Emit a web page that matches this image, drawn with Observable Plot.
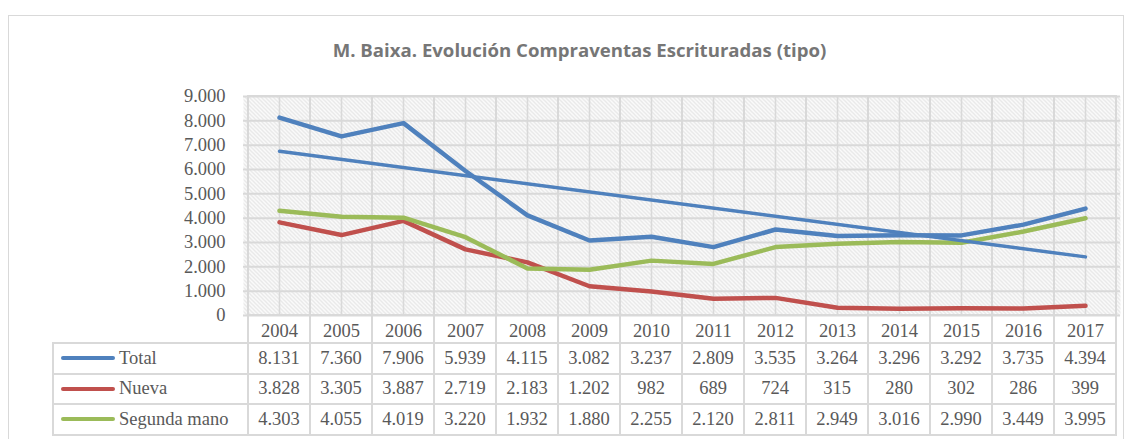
<!DOCTYPE html>
<html>
<head>
<meta charset="utf-8">
<script src="https://cdn.jsdelivr.net/npm/d3@7"></script>
<script src="https://cdn.jsdelivr.net/npm/@observablehq/plot@0.6"></script>
<style>
  html, body { margin: 0; padding: 0; }
  body { width: 1133px; height: 439px; overflow: hidden; background: #fff; position: relative; }
  #frame { position: absolute; left: 8px; top: 15px; width: 1116px; height: 440px; border: 1px solid #d9d9d9; box-sizing: border-box; }
  #title { position: absolute; left: 13px; width: 1133px; top: 38px; text-align: center;
           font: bold 18.6px "Open Sans", Lato, sans-serif; color: #767676; line-height: 24px; }
  #chart { position: absolute; left: 0; top: 80px; }
  .ln { position: absolute; background: #d9d9d9; }
  .cell { position: absolute; display: flex; align-items: center; justify-content: center;
          font: 18.5px "Liberation Serif", serif; color: #595959; white-space: nowrap; }
  .lab { justify-content: flex-start; }
  .sw { display: inline-block; width: 54px; height: 4px; border-radius: 2px; margin-left: 8px; margin-right: 4px; }
</style>
</head>
<body>
<div id="frame"></div>
<div id="title">M. Baixa. Evolución Compraventas Escrituradas (tipo)</div>
<div id="chart"></div>
<script>
// ---- data ----
const years = [2004, 2005, 2006, 2007, 2008, 2009, 2010, 2011, 2012, 2013, 2014, 2015, 2016, 2017];
const total = [8131, 7360, 7906, 5939, 4115, 3082, 3237, 2809, 3535, 3264, 3296, 3292, 3735, 4394];
const nueva = [3828, 3305, 3887, 2719, 2183, 1202, 982, 689, 724, 315, 280, 302, 286, 399];
const segundaMano = [4303, 4055, 4019, 3220, 1932, 1880, 2255, 2120, 2811, 2949, 3016, 2990, 3449, 3995];
const seriesNames = ["Total", "Nueva", "Segunda mano"];
const seriesColors = ["#4f81bd", "#c0504d", "#9bbb59"];
const yTicks = [0, 1000, 2000, 3000, 4000, 5000, 6000, 7000, 8000, 9000];

const seriesValues = [total, nueva, segundaMano];
const rows = seriesNames.flatMap((name, s) => years.map((year, i) => ({ year, value: seriesValues[s][i], serie: name })));
const totalRows = rows.filter(d => d.serie === "Total");

const locale = d3.formatLocale({ decimal: ",", thousands: ".", grouping: [3], currency: ["", " €"] });
const fmt = locale.format(",");

const hatchDefs = () => {
  const defs = document.createElementNS("http://www.w3.org/2000/svg", "defs");
  defs.innerHTML = `<pattern id="hatch" patternUnits="userSpaceOnUse" width="4" height="4">
      <rect width="4" height="4" fill="#ffffff"></rect>
      <path d="M-1,-1 L5,5 M-1,3 L1,5 M3,-1 L5,1" stroke="#dedede" stroke-width="1.2"></path>
    </pattern>`;
  return defs;
};

const chart = Plot.plot({
  width: 1133,
  height: 263,
  marginLeft: 243,
  marginRight: 13,
  marginTop: 16,
  marginBottom: 28,
  style: { fontFamily: "'Liberation Serif', serif", fontSize: "18.5px", color: "#595959", background: "transparent", overflow: "visible" },
  x: { type: "band", domain: years, padding: 0, tickSize: 0, tickPadding: 8, tickFormat: d => String(d), label: null },
  y: { domain: [0, 9000], ticks: yTicks, tickSize: 0, tickPadding: 18, tickFormat: fmt, label: null },
  color: { domain: seriesNames, range: seriesColors },
  marks: [
    hatchDefs,
    Plot.frame({ fill: "url(#hatch)", stroke: null }),
    Plot.ruleY(yTicks, { stroke: "#d9d9d9", strokeWidth: 2 }),
    Plot.cell(years, { x: d => d, fill: "none", stroke: "#d9d9d9", strokeWidth: 2 }),
    Plot.ruleX(years, { stroke: "#d9d9d9", strokeWidth: 1.6 }),
    Plot.line(rows, { x: "year", y: "value", z: "serie", stroke: "serie", strokeWidth: 4.5, strokeLinejoin: "round", strokeLinecap: "round" }),
    Plot.linearRegressionY(totalRows, { x: "year", y: "value", stroke: "#4f81bd", strokeWidth: 3.5, ci: 0 })
  ]
});
document.getElementById("chart").appendChild(chart);

// ---- data table under the chart, aligned with the x scale ----
const xs = chart.scale("x");
const bw = xs.bandwidth;
const svgTop = 80;
const axisY = svgTop + 263 - 28;
const headerH = 28, rowH = 30.5;
const tableLeft = 53;
const xStart = xs.apply(years[0]);
const xEnd = xs.apply(years[years.length - 1]) + bw;
const body = document.body;

function line(x, y, w, h) {
  const d = document.createElement("div");
  d.className = "ln";
  Object.assign(d.style, { left: x + "px", top: y + "px", width: w + "px", height: h + "px" });
  body.appendChild(d);
}
function cell(x, y, w, h, content, cls) {
  const d = document.createElement("div");
  d.className = "cell" + (cls ? " " + cls : "");
  Object.assign(d.style, { left: x + "px", top: y + "px", width: w + "px", height: h + "px" });
  if (typeof content === "string") d.textContent = content; else d.appendChild(content);
  body.appendChild(d);
}
const bottomY = axisY + headerH + rowH * seriesNames.length;
// vertical lines at band edges
years.forEach(y => line(xs.apply(y) - 1, axisY, 2, bottomY - axisY + 1));
line(xEnd - 1, axisY, 2, bottomY - axisY + 1);
line(tableLeft - 1, axisY + headerH - 1, 2, bottomY - axisY - headerH + 2);
// horizontal lines
for (let r = 0; r <= seriesNames.length; r++) {
  line(tableLeft - 1, axisY + headerH + r * rowH - 1, xEnd - tableLeft + 2, 2);
}
// row content
seriesNames.forEach((name, r) => {
  const top = axisY + headerH + r * rowH;
  const frag = document.createElement("span");
  frag.style.display = "flex"; frag.style.alignItems = "center";
  const sw = document.createElement("span");
  sw.className = "sw"; sw.style.background = seriesColors[r];
  const tx = document.createElement("span"); tx.textContent = name;
  frag.appendChild(sw); frag.appendChild(tx);
  cell(tableLeft, top, xStart - tableLeft, rowH, frag, "lab");
  years.forEach((y, i) => cell(xs.apply(y), top, bw, rowH, fmt(seriesValues[r][i])));
});
</script>
</body>
</html>
